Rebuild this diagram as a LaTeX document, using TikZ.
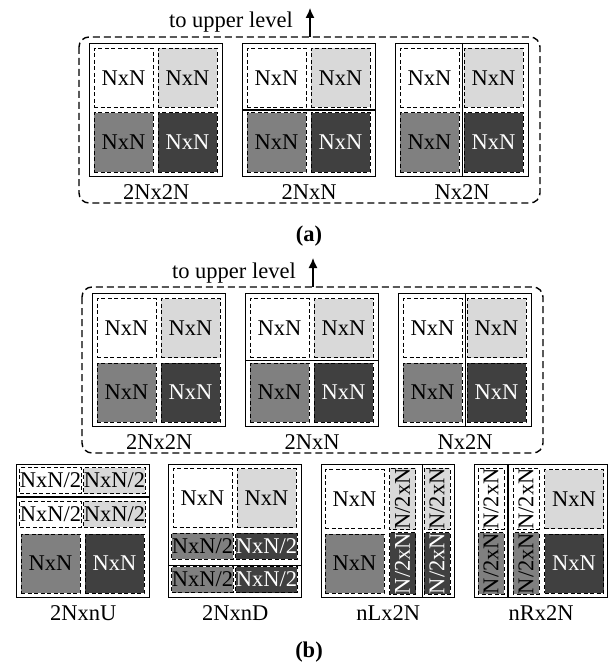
\documentclass[tikz,border=0pt]{standalone}
\usepackage{fontspec}
\setmainfont{Liberation Serif}
\usetikzlibrary{positioning,arrows.meta}

\begin{document}
\begin{tikzpicture}[x=1pt,y=-1pt,
    font=\fontsize{22.5}{26}\selectfont,
    blk/.style={draw,line width=1.3pt,inner sep=0pt,minimum size=133pt,anchor=north west},
    cell/.style={draw,dash pattern=on 4pt off 2.5pt,line width=1pt,inner sep=0pt},
    sq/.style={cell,minimum width=59pt,minimum height=59pt},
    hw/.style={cell,minimum width=59pt,minimum height=26pt},
    hv/.style={cell,minimum width=59pt,minimum height=26pt,rotate=90},
    c0/.style={fill=white},
    c1/.style={fill=black!15},
    c2/.style={fill=black!50},
    c3/.style={fill=black!75,text=white},
    grp/.style={draw,dash pattern=on 7pt off 4pt,line width=1.4pt,rounded corners=10pt},
    lbl/.style={inner sep=0pt}]
\useasboundingbox (0,0) rectangle (610,666);

% (a) and top of (b): the same three blocks
\foreach \p/\dx/\dy in {a/0/0,b/3/250}{
  \begin{scope}[shift={(\dx,\dy)}]
  \draw[grp] (79,37) rectangle (540,203);
  \node[lbl,anchor=base east] (\p-up-l) at (293,28) {to upper level};
  \coordinate (\p-top) at (310,37);
  \coordinate (\p-up) at (310,8);
  \draw[line width=1.3pt,-{Latex[length=10pt,width=9pt]}] (\p-top) -- (\p-up);
  \foreach \bx/\k/\txt in {89/1/2Nx2N,242/2/2NxN,395/3/Nx2N}{
    \node[blk] (\p\k) at (\bx,43) {};
    \foreach \cx/\cy/\c [count=\i] in {34.5/35/c0,98.5/35/c1,34.5/99.5/c2,98.5/99.5/c3}
      \node[sq,\c] (\p\k-\i) at (\bx+\cx,43+\cy) {NxN};
    \node[lbl,below=7pt of \p\k] (\p\k-l) {\txt};
  }
  \draw[line width=1.3pt] (\p2.west) -- (\p2.east);
  \draw[line width=1.3pt] (\p3.north) -- (\p3.south);
  \end{scope}
}
\node[lbl,font=\fontsize{22.5}{26}\selectfont\bfseries] (cap-a) at (309,236) {(a)};

% bottom of (b): asymmetric partitions
\node[blk] (nU) at (16,464) {};
\draw[line width=1.3pt] ([yshift=-33pt]nU.north west) -- ([yshift=-33pt]nU.north east);
\node[hw,c0] (nU-1) at (16+34.5,464+16.5) {NxN/2};
\node[hw,c1] (nU-2) at (16+98.5,464+16.5) {NxN/2};
\node[hw,c0] (nU-3) at (16+34.5,464+50) {NxN/2};
\node[hw,c1] (nU-4) at (16+98.5,464+50) {NxN/2};
\node[sq,c2] (nU-5) at (16+34.5,464+99.5) {NxN};
\node[sq,c3] (nU-6) at (16+98.5,464+99.5) {NxN};
\node[lbl,below=7pt of nU] (nU-l) {2NxnU};

\node[blk] (nD) at (168,464) {};
\draw[line width=1.3pt] ([yshift=33pt]nD.south west) -- ([yshift=33pt]nD.south east);
\node[sq,c0] (nD-1) at (168+34.5,464+34) {NxN};
\node[sq,c1] (nD-2) at (168+98.5,464+34) {NxN};
\node[hw,c2] (nD-3) at (168+34.5,464+82) {NxN/2};
\node[hw,c3] (nD-4) at (168+98.5,464+82) {NxN/2};
\node[hw,c2] (nD-5) at (168+34.5,464+115.5) {NxN/2};
\node[hw,c3] (nD-6) at (168+98.5,464+115.5) {NxN/2};
\node[lbl,below=7pt of nD] (nD-l) {2NxnD};

\node[blk] (nL) at (321,464) {};
\draw[line width=1.3pt] ([xshift=-33pt]nL.north east) -- ([xshift=-33pt]nL.south east);
\node[sq,c0] (nL-1) at (321+33.5,464+35) {NxN};
\node[hv,c1] (nL-2) at (321+81.5,464+35) {N/2xN};
\node[hv,c1] (nL-3) at (321+116,464+35) {N/2xN};
\node[sq,c2] (nL-4) at (321+33.5,464+99.5) {NxN};
\node[hv,c3] (nL-5) at (321+81.5,464+99.5) {N/2xN};
\node[hv,c3] (nL-6) at (321+116,464+99.5) {N/2xN};
\node[lbl,below=7pt of nL] (nL-l) {nLx2N};

\node[blk] (nR) at (474,464) {};
\draw[line width=1.3pt] ([xshift=34pt]nR.north west) -- ([xshift=34pt]nR.south west);
\node[hv,c0] (nR-1) at (474+17,464+35) {N/2xN};
\node[hv,c0] (nR-2) at (474+52,464+35) {N/2xN};
\node[sq,c1] (nR-3) at (474+100,464+35) {NxN};
\node[hv,c2] (nR-4) at (474+17,464+99.5) {N/2xN};
\node[hv,c2] (nR-5) at (474+52,464+99.5) {N/2xN};
\node[sq,c3] (nR-6) at (474+100,464+99.5) {NxN};
\node[lbl,below=7pt of nR] (nR-l) {nRx2N};

\node[lbl,font=\fontsize{22.5}{26}\selectfont\bfseries] (cap-b) at (309,652) {(b)};
\end{tikzpicture}
\end{document}
